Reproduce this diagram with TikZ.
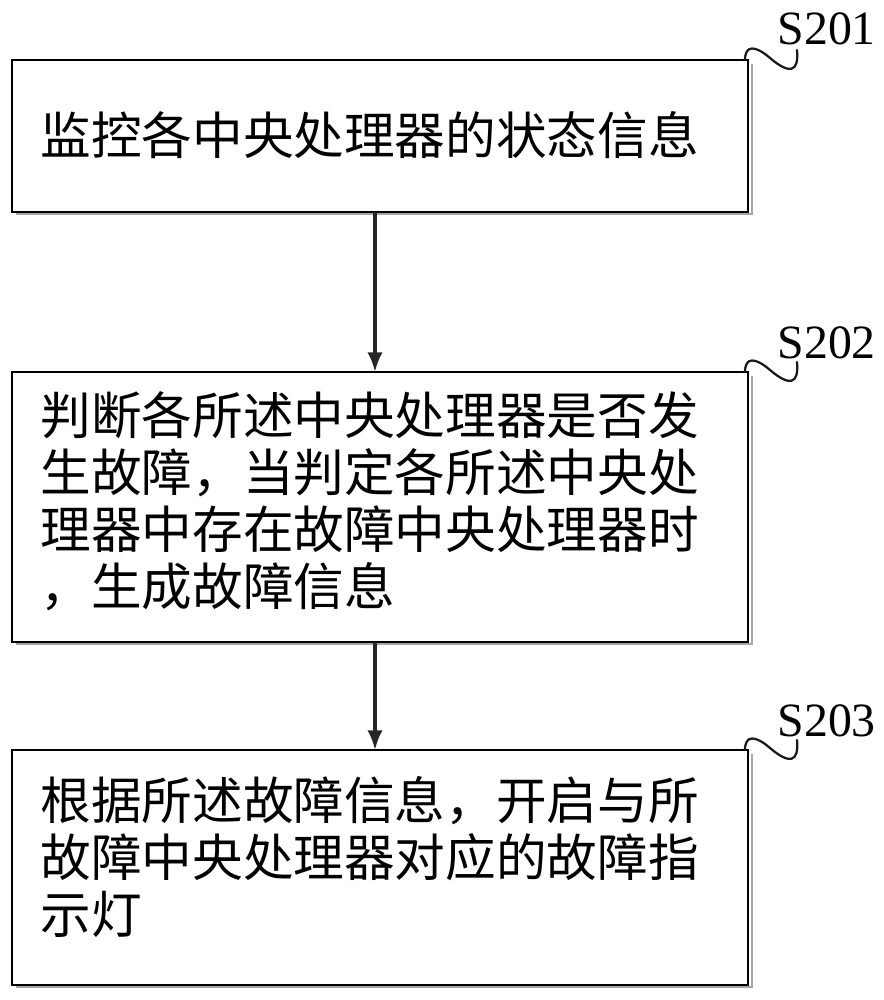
\documentclass[tikz,border=0pt]{standalone}
\usepackage{fontspec}
\usetikzlibrary{arrows.meta}
\setmainfont{Liberation Serif}
\newfontfamily\cjk{Noto Sans CJK SC}
\begin{document}
\begin{tikzpicture}[x=0.025cm,y=-0.025cm,
  thick,
  steptext/.style={font=\cjk\fontsize{36}{40.5}\selectfont,align=left,anchor=west,inner sep=0pt},
  steplabel/.style={font=\fontsize{34}{34}\selectfont,anchor=base west,inner sep=0pt}]
  \useasboundingbox (0,0) rectangle (883,1000);

  \foreach \t/\b in {60/212,372/642,750/985}{
    \draw[line width=2pt,gray!70] (16,\b+2) -- (752,\b+2) -- (752,\t+4);
    \draw[line width=1pt] (12,\t) rectangle (748,\b);
  }

  \node[steptext] (t1) at (40,135) {监控各中央处理器的状态信息};
  \node[steptext] (t2) at (40,501) {判断各所述中央处理器是否发\\生故障，当判定各所述中央处\\理器中存在故障中央处理器时\\，生成故障信息};
  \node[steptext] (t3) at (40,857) {根据所述故障信息，开启与所\\故障中央处理器对应的故障指\\示灯};

  \node[steplabel] (s1) at (777,44) {S201};
  \node[steplabel] (s2) at (777,358) {S202};
  \node[steplabel] (s3) at (777,736) {S203};

  \foreach \s/\y in {s1/60,s2/372,s3/750}{
    \draw[line width=1.6pt,gray!20!black,line cap=round] (745,\y) .. controls (745,\y-15) and (755,\y-15) .. (770,\y-2)
      .. controls (790,\y+15) and (799,\y+12) .. (797,\y-10);
  }

  \coordinate (a1) at (375,212);
  \coordinate (a2) at (375,372);
  \coordinate (a3) at (375,642);
  \coordinate (a4) at (375,750);
  \draw[line width=2.5pt,gray!30!black,-{Latex[length=14pt,width=11pt]}] (a1) -- (a2);
  \draw[line width=2.5pt,gray!30!black,-{Latex[length=14pt,width=11pt]}] (a3) -- (a4);
\end{tikzpicture}
\end{document}
